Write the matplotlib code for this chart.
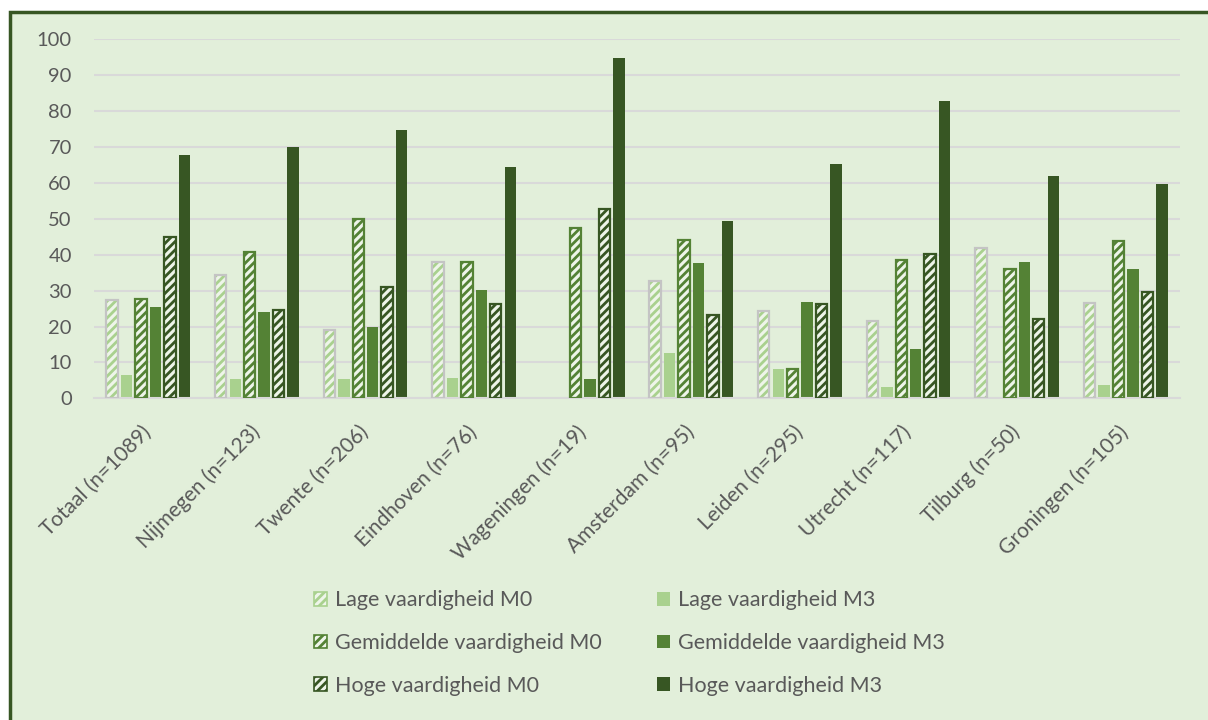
import numpy as np
import matplotlib.pyplot as plt
from matplotlib.patches import Patch, Rectangle

plt.rcParams['font.family'] = ['Lato', 'DejaVu Sans']
plt.rcParams['hatch.linewidth'] = 2.0

# Data
cities = ['Totaal (n=1089)', 'Nijmegen (n=123)', 'Twente (n=206)', 'Eindhoven (n=76)',
          'Wageningen (n=19)', 'Amsterdam (n=95)', 'Leiden (n=295)', 'Utrecht (n=117)',
          'Tilburg (n=50)', 'Groningen (n=105)']
lage_m0 = [27.4, 34.4, 18.9, 38.0, 0.0, 32.7, 24.3, 21.4, 41.9, 26.6]
lage_m3 = [6.4, 5.5, 5.3, 5.6, 0.0, 12.6, 8.1, 3.2, 0.0, 3.7]
gem_m0 = [27.7, 40.8, 49.9, 38.0, 47.5, 44.1, 8.1, 38.5, 36.1, 43.7]
gem_m3 = [25.5, 24.0, 19.8, 30.2, 5.3, 37.7, 26.8, 13.6, 38.0, 36.1]
hoog_m0 = [44.8, 24.7, 31.1, 26.3, 52.8, 23.2, 26.3, 40.1, 22.1, 29.5]
hoog_m3 = [67.7, 70.1, 74.8, 64.5, 94.7, 49.4, 65.4, 82.8, 61.8, 59.8]
yticks = list(range(0, 101, 10))

bg = '#E2EFDA'
light = '#A9D18E'
mid = '#548235'
dark = '#375623'
grey = '#595959'

series = [
    ('Lage vaardigheid M0', lage_m0, True, light, '#C4C4C4'),
    ('Lage vaardigheid M3', lage_m3, False, light, light),
    ('Gemiddelde vaardigheid M0', gem_m0, True, mid, mid),
    ('Gemiddelde vaardigheid M3', gem_m3, False, mid, mid),
    ('Hoge vaardigheid M0', hoog_m0, True, dark, dark),
    ('Hoge vaardigheid M3', hoog_m3, False, dark, dark),
]

fig = plt.figure(figsize=(12.08, 7.2), dpi=100)
fig.patch.set_facecolor('white')
# chart area frame
fig.patches.append(Rectangle((10 / 1208, -0.01), 1.02, (720 - 12) / 720 + 0.01,
                             transform=fig.transFigure, facecolor=bg,
                             edgecolor=dark, linewidth=2.5, zorder=-5))

ax = fig.add_axes([94 / 1208, 0.4468, 1086 / 1208, 0.4986])
ax.set_zorder(2)
ax.set_facecolor(bg)
x = np.arange(len(cities))
slot = 0.133
width = 0.105
handles = []
for i, (name, vals, hatched, col, edge) in enumerate(series):
    pos = x + (i - 2.5) * slot
    if hatched:
        lw = [1.6 if v > 0 else 0 for v in vals]
        ax.bar(pos, vals, width, color='#EEF5E9', edgecolor=col, linewidth=0,
               hatch='////', zorder=2)
        ax.bar(pos, vals, width, fill=False, edgecolor=edge, linewidth=lw, zorder=3)
        handles.append(Patch(facecolor='#EEF5E9', edgecolor=col, hatch='////',
                             linewidth=1.2, label=name))
    else:
        ax.bar(pos, vals, width, color=col, zorder=2)
        handles.append(Patch(facecolor=col, label=name))

ax.set_ylim(0, 100)
ax.set_xlim(-0.5, len(cities) - 0.5)
ax.set_yticks(yticks)
ax.yaxis.grid(True, color='#D9D9D9', linewidth=1.5)
ax.set_axisbelow(True)
for s in ['top', 'right', 'left']:
    ax.spines[s].set_visible(False)
ax.spines['bottom'].set_color('#D9D9D9')
ax.spines['bottom'].set_linewidth(1.5)
ax.tick_params(axis='both', length=0, colors=grey, labelsize=14.5)
ax.tick_params(axis='y', pad=16)
ax.set_xticks(x)
ax.set_xticklabels(cities, rotation=45, ha='right', va='center', rotation_mode='anchor',
                   fontsize=15)
ax.tick_params(axis='x', pad=22)

order = [0, 2, 4, 1, 3, 5]
leg = fig.legend([handles[k] for k in order], [handles[k].get_label() for k in order],
                 ncol=2, loc='center', bbox_to_anchor=(0.521, 0.107), frameon=False,
                 fontsize=15.5, labelcolor=grey, handlelength=0.6, handleheight=0.6,
                 handletextpad=0.35, columnspacing=2.6, labelspacing=1.05)
leg.set_zorder(3)

plt.savefig('out.png', dpi=100)
